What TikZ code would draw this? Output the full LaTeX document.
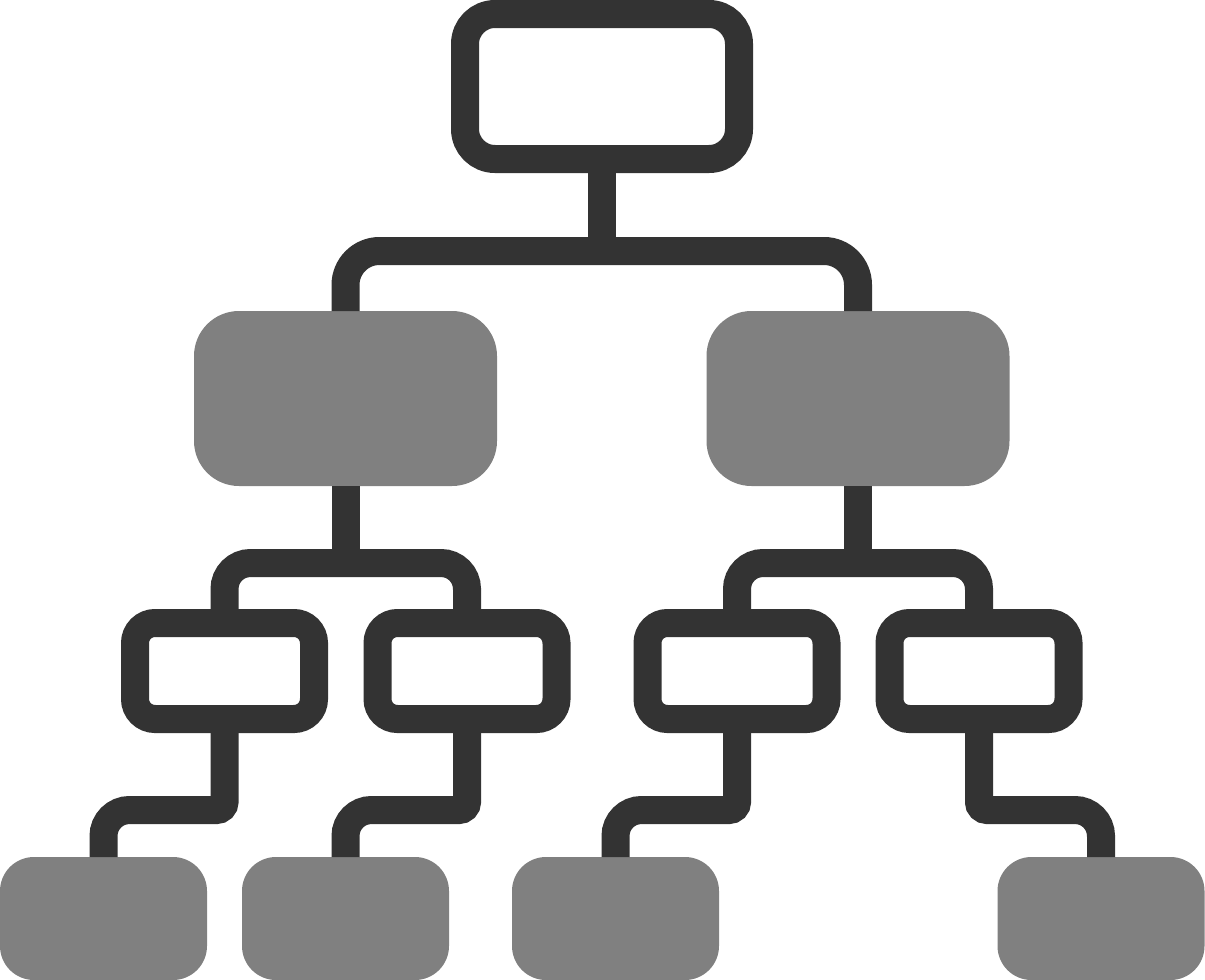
\documentclass[tikz,border=0pt]{standalone}
\definecolor{icondark}{HTML}{333333}
\definecolor{icongray}{HTML}{808080}
\tikzset{
  link/.style={draw=icondark, line width=28pt, rounded corners=34pt},
  sublink/.style={draw=icondark, line width=28pt, rounded corners=26pt},
  framebox/.style={draw=icondark, line width=28pt, fill=white, rounded corners=20pt,
    minimum width=179pt, minimum height=96pt, inner sep=0pt},
  graybox/.style={fill=icongray, rounded corners=45pt, inner sep=0pt, outer sep=0pt,
    minimum width=303pt, minimum height=175pt},
  leafbox/.style={fill=icongray, rounded corners=34pt, inner sep=0pt, outer sep=0pt,
    minimum width=207pt, minimum height=123pt}
}

\begin{document}
\begin{tikzpicture}[x=1pt, y=-1pt]
      \useasboundingbox (0,0) rectangle (1205,980);
      % boxes
      \node[framebox, rounded corners=30pt, minimum width=274pt, minimum height=145pt] (root) at (602,86.5) {};
      \node[graybox] (midl) at (345.5,398.5) {};
      \node[graybox] (midr) at (858,398.5) {};
      \node[framebox] (ll) at (224.5,671) {};
      \node[framebox] (lr) at (467,671) {};
      \node[framebox] (rl) at (737,671) {};
      \node[framebox] (rr) at (979,671) {};
      \node[leafbox] (leafa) at (103.5,918.5) {};
      \node[leafbox] (leafb) at (345.5,918.5) {};
      \node[leafbox] (leafc) at (615.5,918.5) {};
      \node[leafbox] (leafd) at (1101,918.5) {};
      % joints
      \coordinate (hubtop) at (602,251);
      \coordinate (hubl) at (345.5,563);
      \coordinate (hubr) at (858,563);
      % connectors
      \draw[link] (root.south) -- (hubtop);
      \draw[link] (midl.north) |- (hubtop) -| (midr.north);
      \draw[link] (midl.south) -- (hubl);
      \draw[link] (midr.south) -- (hubr);
      \draw[sublink] (ll.north) |- (hubl) -| (lr.north);
      \draw[sublink] (rl.north) |- (hubr) -| (rr.north);
      \draw[sublink] (ll.south) [rounded corners=8pt] -- ++(0,77) [rounded corners=26pt] -| (leafa.north);
      \draw[sublink] (lr.south) [rounded corners=8pt] -- ++(0,77) [rounded corners=26pt] -| (leafb.north);
      \draw[sublink] (rl.south) [rounded corners=8pt] -- ++(0,77) [rounded corners=26pt] -| (leafc.north);
      \draw[sublink] (rr.south) [rounded corners=8pt] -- ++(0,77) [rounded corners=26pt] -| (leafd.north);
    \end{tikzpicture}
\end{document}
